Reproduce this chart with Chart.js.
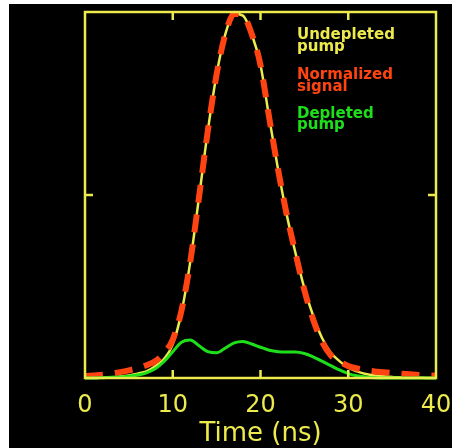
<!DOCTYPE html>
<html>
<head>
<meta charset="utf-8">
<script src="https://cdn.jsdelivr.net/npm/chart.js@4/dist/chart.umd.min.js"></script>
<style>
html,body{margin:0;padding:0;background:#fff;}
#wrap{position:relative;width:452px;height:448px;}
canvas{display:block;}
</style>
</head>
<body>
<div id="wrap"><canvas id="c" width="452" height="448"></canvas></div>
<script>
// ---- data ----
const times = [0,1,2,3,4,5,6,7,8,9,10,11,12,13,14,15,16,17,18,19,20,21,22,23,24,25,26,27,28,29,30,31,32,33,34,35,36,37,38,39,40];
const undepletedPump = [0,0,0.001,0.002,0.004,0.007,0.012,0.018,0.032,0.052,0.092,0.18,0.318,0.495,0.676,0.83,0.94,0.995,0.99,0.94,0.855,0.71,0.57,0.445,0.34,0.245,0.17,0.11,0.07,0.046,0.028,0.018,0.011,0.007,0.005,0.003,0.002,0.001,0.001,0,0];
const normalizedSignal = [0.005,0.007,0.009,0.012,0.016,0.021,0.027,0.035,0.046,0.068,0.105,0.185,0.318,0.495,0.676,0.83,0.94,0.995,0.99,0.94,0.855,0.71,0.57,0.445,0.34,0.24,0.16,0.1,0.062,0.045,0.033,0.026,0.021,0.018,0.016,0.014,0.012,0.01,0.008,0.007,0.006];
const depletedPump = [0,0,0.001,0.002,0.003,0.005,0.008,0.014,0.025,0.045,0.072,0.098,0.104,0.088,0.072,0.069,0.082,0.096,0.1,0.093,0.084,0.076,0.072,0.071,0.071,0.067,0.058,0.046,0.034,0.022,0.012,0.006,0.003,0.001,0,0,0,0,0,0,0];
const xTicks = [0,10,20,30,40];
const legendLines = [
  {text:'Undepleted', color:'yellow'},
  {text:'pump', color:'yellow'},
  {text:'Normalized', color:'red'},
  {text:'signal', color:'red'},
  {text:'Depleted', color:'green'},
  {text:'pump', color:'green'}
];
const xTitle = 'Time (ns)';

const COL = {yellow:'#ecea4c', red:'#ff4412', green:'#1ee01a'};
const pts = arr => times.map((t,i)=>({x:t,y:arr[i]}));

const bgPlugin = {
  id:'bg',
  beforeDraw(chart){
    const ctx = chart.ctx;
    ctx.save();
    ctx.fillStyle = '#ffffff';
    ctx.fillRect(0,0,chart.width,chart.height);
    ctx.fillStyle = '#000000';
    ctx.fillRect(9,4,chart.width-9,chart.height-4);
    ctx.restore();
  }
};

const framePlugin = {
  id:'frame',
  afterDatasetsDraw(chart){
    const ctx = chart.ctx, a = chart.chartArea;
    const xs = chart.scales.x, ys = chart.scales.y;
    ctx.save();
    ctx.strokeStyle = COL.yellow;
    ctx.lineWidth = 2.5;
    ctx.strokeRect(a.left, a.top, a.right-a.left, a.bottom-a.top);
    ctx.beginPath();
    [10,20,30].forEach(v=>{
      const px = xs.getPixelForValue(v);
      ctx.moveTo(px, a.bottom); ctx.lineTo(px, a.bottom-8);
      ctx.moveTo(px, a.top); ctx.lineTo(px, a.top+8);
    });
    const py = ys.getPixelForValue(0.5);
    ctx.moveTo(a.left, py); ctx.lineTo(a.left+8, py);
    ctx.moveTo(a.right, py); ctx.lineTo(a.right-8, py);
    ctx.stroke();
    // legend text
    ctx.font = 'bold 15px "DejaVu Sans"';
    ctx.textBaseline = 'alphabetic';
    ctx.textAlign = 'left';
    const baselines = [39,51,79,91,118,129];
    legendLines.forEach((l,i)=>{
      ctx.fillStyle = COL[l.color];
      ctx.fillText(l.text, 297, baselines[i]);
    });
    ctx.restore();
  }
};

new Chart(document.getElementById('c'), {
  type:'line',
  data:{
    datasets:[
      {label:'Undepleted pump', data:pts(undepletedPump), borderColor:COL.yellow, borderWidth:2.5, pointRadius:0, cubicInterpolationMode:'monotone', clip:10, order:3},
      {label:'Normalized signal', data:pts(normalizedSignal), borderColor:COL.red, borderWidth:6, borderDash:[18,12], pointRadius:0, cubicInterpolationMode:'monotone', clip:10, order:2},
      {label:'Depleted pump', data:pts(depletedPump), borderColor:COL.green, borderWidth:3, pointRadius:0, cubicInterpolationMode:'monotone', clip:10, order:1}
    ]
  },
  options:{
    responsive:false,
    animation:false,
    layout:{padding:{left:85,right:16,top:12,bottom:0}},
    plugins:{legend:{display:false}, tooltip:{enabled:false}},
    scales:{
      x:{
        type:'linear', min:0, max:40, position:'bottom',
        afterBuildTicks(s){ s.ticks = xTicks.map(v=>({value:v})); },
        afterFit(s){ s.height = 70; s.paddingLeft = 0; s.paddingRight = 0; },
        grid:{display:false, drawTicks:false},
        border:{display:false},
        ticks:{color:COL.yellow, font:{family:'DejaVu Sans', size:24}, padding:13, maxRotation:0},
        title:{display:true, text:xTitle, color:COL.yellow, font:{family:'DejaVu Sans', size:26}, padding:{top:0,bottom:-2}}
      },
      y:{
        type:'linear', min:0, max:1, display:false
      }
    }
  },
  plugins:[bgPlugin, framePlugin]
});
</script>
</body>
</html>
